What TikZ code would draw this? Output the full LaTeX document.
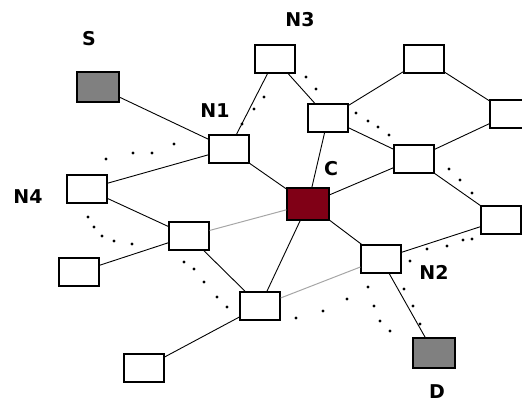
\documentclass[tikz,border=0pt]{standalone}
\usepackage{fontspec}
\setsansfont{DejaVu Sans}
\usetikzlibrary{positioning}
\definecolor{hubred}{RGB}{128,0,22}
\definecolor{endgray}{RGB}{128,128,128}
\begin{document}
\begin{tikzpicture}[x=1pt,y=-1pt]
			\tikzstyle{box} = [rectangle, draw, line width=1.2pt, fill=white, minimum width=40pt, minimum height=28pt, inner sep=0pt]
			\tikzstyle{endbox} = [box, fill=endgray, minimum width=42pt, minimum height=30pt]
			\tikzstyle{hub} = [box, fill=hubred, minimum width=42pt, minimum height=32pt]
			\tikzstyle{tag} = [font=\sffamily\bfseries\fontsize{19}{19}\selectfont, inner sep=0pt]
			\tikzstyle{link} = [draw, line width=0.9pt]
			\tikzstyle{weak} = [draw, line width=1pt, gray!70]
			\useasboundingbox (0,0) rectangle (522,403);

			% nodes
			\node [endbox] (src) at (98,87) {};
			\node [endbox] (dst) at (434,353) {};
			\node [hub] (c) at (308,204) {};
			\node [box] (n1) at (229,149) {};
			\node [box] (n2) at (381,259) {};
			\node [box] (n3) at (275,59) {};
			\node [box] (n4) at (87,189) {};
			\node [box] (u1) at (328,118) {};
			\node [box] (u2) at (424,59) {};
			\node [box] (u3) at (510,114) {};
			\node [box] (u4) at (414,159) {};
			\node [box] (u5) at (501,220) {};
			\node [box] (l1) at (189,236) {};
			\node [box] (l2) at (79,272) {};
			\node [box] (l3) at (260,306) {};
			\node [box] (l4) at (144,368) {};

			% labels
			\node [tag] (tsrc) at (89,39) {S};
			\node [tag] (tdst) at (437,392) {D};
			\node [tag] (tc) at (331,169) {C};
			\node [tag] (tn1) at (215,111) {N1};
			\node [tag] (tn2) at (434,272) {N2};
			\node [tag] (tn3) at (300,20) {N3};
			\node [tag] (tn4) at (28,197) {N4};

			% links
			\path [link] (src) -- (n1);
			\path [link] (n1) -- (n4);
			\path [link] (n1) -- (n3);
			\path [link] (n1) -- (c);
			\path [link] (n3) -- (u1);
			\path [link] (u1) -- (c);
			\path [link] (u1) -- (u2);
			\path [link] (u1) -- (u4);
			\path [link] (u2) -- (u3);
			\path [link] (u3) -- (u4);
			\path [link] (u4) -- (c);
			\path [link] (u4) -- (u5);
			\path [link] (u5) -- (n2);
			\path [link] (c) -- (n2);
			\path [weak] (c) -- (l1);
			\path [link] (c) -- (l3);
			\path [link] (n4) -- (l1);
			\path [link] (l1) -- (l2);
			\path [link] (l1) -- (l3);
			\path [weak] (l3) -- (n2);
			\path [link] (l3) -- (l4);
			\path [link] (n2) -- (dst);

			% dots
			\foreach \p in {(106,159),(133,153),(152,153),(174,144),
				(242,124),(254,109),(264,97),(306,77),(316,89),
				(356,113),(368,121),(378,127),(389,135),
				(449,169),(460,180),(472,193),
				(410,261),(427,249),(447,246),(463,240),(472,239),
				(368,287),(374,306),(380,321),(390,331),
				(404,289),(413,306),(420,324),
				(296,318),(323,311),(347,299),
				(184,262),(194,269),(204,282),(217,297),(227,307),
				(88,217),(94,227),(102,236),(114,241),(132,244)}
				\fill \p circle (1.7);
		\end{tikzpicture}
\end{document}
